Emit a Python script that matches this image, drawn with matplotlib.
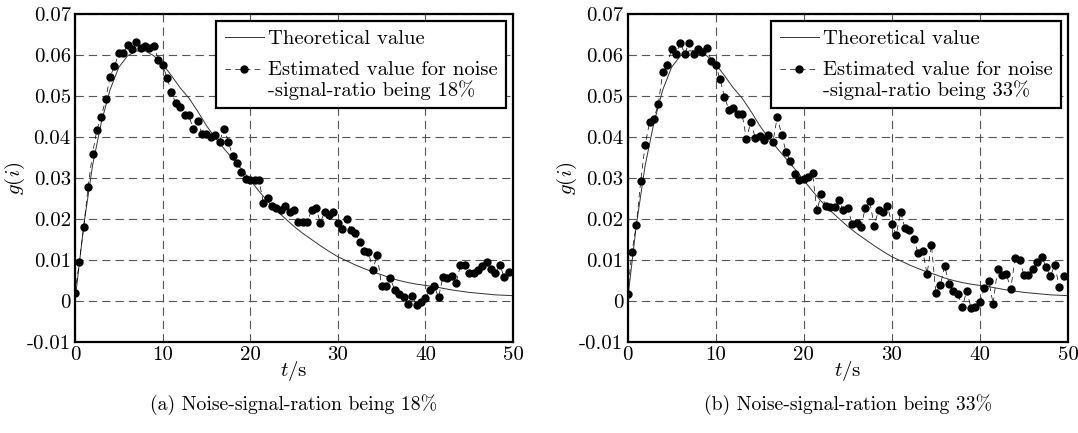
import matplotlib
matplotlib.use("Agg")
import matplotlib.pyplot as plt
from matplotlib.legend_handler import HandlerLine2D

plt.rcParams['font.family'] = ['cmr10', 'DejaVu Serif']
plt.rcParams['mathtext.fontset'] = 'cm'
plt.rcParams['axes.unicode_minus'] = False
plt.rcParams['axes.formatter.use_mathtext'] = True

# ---------------- data ----------------
t_theory = list(range(0, 51))
g_theory = [0.0, 0.0185, 0.033, 0.0435, 0.0515, 0.057, 0.0598, 0.061, 0.061, 0.0598,
            0.0578, 0.055, 0.052, 0.0495, 0.0463, 0.0428, 0.0398, 0.0372, 0.0347, 0.0322,
            0.0295, 0.0268, 0.0243, 0.0221, 0.0201, 0.0182, 0.0165, 0.015, 0.0135, 0.0121,
            0.0108, 0.0098, 0.0088, 0.0079, 0.0071, 0.0064, 0.0056, 0.005, 0.0045, 0.0041,
            0.0038, 0.0035, 0.0031, 0.0027, 0.0024, 0.0021, 0.0019, 0.0017, 0.0015, 0.0014,
            0.0013]

t_est = [i * 0.5 for i in range(100)]

g_est_18 = [0.0019, 0.0096, 0.018, 0.0279, 0.0359, 0.0418, 0.0449, 0.0492, 0.0547, 0.0572,
            0.0604, 0.0604, 0.0624, 0.0614, 0.0632, 0.0618, 0.0622, 0.0618, 0.0622, 0.0589,
            0.0576, 0.0545, 0.051, 0.0482, 0.0474, 0.0453, 0.0453, 0.0419, 0.044, 0.0407,
            0.0407, 0.0401, 0.0405, 0.0389, 0.042, 0.0389, 0.0353, 0.0337, 0.0315, 0.0297,
            0.0296, 0.0296, 0.0296, 0.0239, 0.0251, 0.0232, 0.0226, 0.0221, 0.0231, 0.0218,
            0.0222, 0.0192, 0.0192, 0.0192, 0.0221, 0.0228, 0.0191, 0.0217, 0.0209, 0.0217,
            0.0191, 0.0176, 0.02, 0.0172, 0.0165, 0.0143, 0.0122, 0.0119, 0.0076, 0.0112,
            0.0037, 0.0037, 0.0055, 0.0027, 0.0016, 0.0009, -0.0008, 0.0012, -0.001, -0.0002,
            0.0007, 0.0027, 0.0037, 0.0009, 0.0059, 0.0055, 0.0062, 0.0044, 0.0087, 0.0087,
            0.0069, 0.0069, 0.0076, 0.0086, 0.0095, 0.0079, 0.0069, 0.0087, 0.0058, 0.007]

g_est_33 = [0.0017, 0.0119, 0.0185, 0.0293, 0.038, 0.0436, 0.0445, 0.0481, 0.0558, 0.0576,
            0.0614, 0.0603, 0.063, 0.0603, 0.063, 0.0603, 0.0614, 0.0608, 0.0618, 0.0586,
            0.0576, 0.0541, 0.0498, 0.0467, 0.0471, 0.0456, 0.0456, 0.0396, 0.0437, 0.0398,
            0.0403, 0.0392, 0.0405, 0.0387, 0.0449, 0.0405, 0.0363, 0.0341, 0.031, 0.0295,
            0.0298, 0.0302, 0.0312, 0.0221, 0.026, 0.0231, 0.0229, 0.0229, 0.0247, 0.0221,
            0.0228, 0.0187, 0.0191, 0.018, 0.0228, 0.0243, 0.0183, 0.0222, 0.0217, 0.0232,
            0.0189, 0.0161, 0.0217, 0.0177, 0.0172, 0.0151, 0.0116, 0.0123, 0.0066, 0.0137,
            0.002, 0.0038, 0.0085, 0.0042, 0.0025, 0.0018, -0.0015, 0.0025, -0.0017, -0.0015,
            -0.0003, 0.0031, 0.005, -0.0007, 0.0077, 0.0063, 0.0066, 0.0029, 0.0105, 0.0101,
            0.0063, 0.0063, 0.0077, 0.0095, 0.0108, 0.0084, 0.006, 0.0088, 0.0035, 0.006]

x_ticks = [0, 10, 20, 30, 40, 50]
y_ticks = [-0.01, 0.0, 0.01, 0.02, 0.03, 0.04, 0.05, 0.06, 0.07]
y_tick_labels = ['-0.01', '0', '0.01', '0.02', '0.03', '0.04', '0.05', '0.06', '0.07']

panels = [
    (g_est_18, 'Estimated value for noise\n-signal-ratio being 18%',
     '(a) Noise-signal-ration being 18%'),
    (g_est_33, 'Estimated value for noise\n-signal-ratio being 33%',
     '(b) Noise-signal-ration being 33%'),
]

# ---------------- figure ----------------
W, H = 1078, 433
fig = plt.figure(figsize=(W / 100, H / 100), dpi=100)

axes_px = [(75, 513), (627.5, 1068)]
top_px, bot_px = 14, 342
FS = 15
LEG_FS = 14.8
CAP_FS = 14.2


class TopAlignedHandler(HandlerLine2D):
    def __init__(self, shift=0.0, **kw):
        super().__init__(**kw)
        self.shift = shift

    def create_artists(self, legend, orig_handle, xdescent, ydescent,
                       width, height, fontsize, trans):
        arts = super().create_artists(legend, orig_handle, xdescent, ydescent,
                                      width, height, fontsize, trans)
        for a in arts:
            yd = a.get_ydata()
            a.set_ydata([y + self.shift * fontsize for y in yd])
        return arts


for (g_est, leg_label, caption), (x0, x1) in zip(panels, axes_px):
    ax = fig.add_axes([x0 / W, 1 - bot_px / H, (x1 - x0) / W, (bot_px - top_px) / H])
    l1, = ax.plot(t_theory, g_theory, color='#333333', lw=0.7)
    l2, = ax.plot(t_est, g_est, color='black', lw=0.5, ls=(0, (8, 6)),
                  marker='o', markersize=5, markerfacecolor='black',
                  markeredgecolor='black')
    ax.set_xlim(0, 50)
    ax.set_ylim(-0.01, 0.07)
    ax.set_xticks(x_ticks)
    ax.set_xticklabels([str(v) for v in x_ticks])
    ax.set_yticks(y_ticks)
    ax.set_yticklabels(y_tick_labels)
    ax.tick_params(labelsize=FS, direction='in', length=0)
    ax.tick_params(axis='x', pad=3)
    ax.tick_params(axis='y', pad=3)
    ax.grid(True, color='#555555', lw=0.8, ls=(0, (7.5, 4.5)))
    for s in ax.spines.values():
        s.set_linewidth(1.6)
        s.set_color('black')
    ax.set_xlabel('$t$/s', fontsize=FS, labelpad=-4)
    ax.set_ylabel('$g(i)$', fontsize=FS, labelpad=0)

    leg = ax.legend([l1, l2], ['Theoretical value', leg_label], loc='upper right',
                    fontsize=LEG_FS, frameon=True, fancybox=False, framealpha=1,
                    edgecolor='black', borderaxespad=0.35, handlelength=1.9,
                    handletextpad=0.2, labelspacing=0.65, borderpad=0.4,
                    handler_map={l2: TopAlignedHandler(shift=0.55)})
    leg.get_frame().set_linewidth(1.6)
    leg.get_texts()[1].set_linespacing(1.05)

    fig.text((x0 + x1) / 2 / W, 1 - 405 / H, caption, ha='center', va='center',
             fontsize=CAP_FS)

fig.savefig('out.png', dpi=100)
